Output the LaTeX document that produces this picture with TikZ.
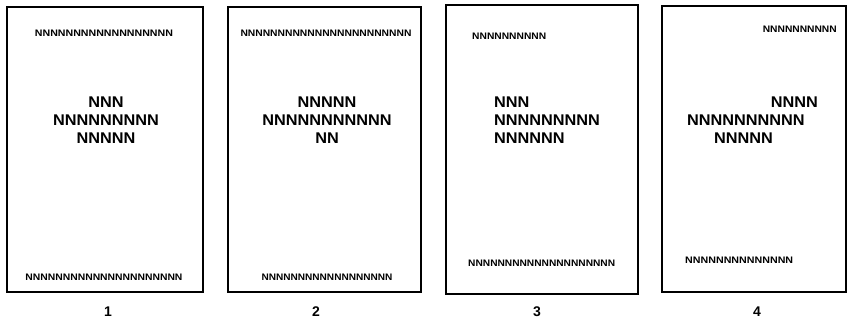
\documentclass[tikz,border=0pt]{standalone}
\usepackage{fontspec}
\setmainfont{Liberation Sans}
\usepackage{graphicx}
\newcommand\tinytxt[2]{\resizebox{#1pt}{6.5pt}{\bfseries #2}}
\begin{document}
\begin{tikzpicture}[x=1pt,y=-1pt,
  page/.style={draw=black,line width=1.4pt},
  big/.style={font=\fontsize{15.5}{15.5}\selectfont\bfseries,inner sep=0pt,xscale=1.05},
  tiny/.style={inner sep=0pt},
  lab/.style={font=\fontsize{14}{14}\selectfont\bfseries,inner sep=0pt}]
\useasboundingbox (0,0) rectangle (850,322);
% pages
\draw[page] (7,7) rectangle (203,292);
\draw[page] (228,7) rectangle (421,292);
\draw[page] (446,5) rectangle (638,294);
\draw[page] (662,6) rectangle (846,292);
% page 1
\node[tiny,anchor=base] (p1t) at (104,36) {\tinytxt{138}{NNNNNNNNNNNNNNNNNN}};
\node[big,anchor=base] (p1a) at (106,107) {NNN};
\node[big,anchor=base] (p1b) at (106,125) {NNNNNNNNN};
\node[big,anchor=base] (p1c) at (106,143) {NNNNN};
\node[tiny,anchor=base] (p1u) at (104,280) {\tinytxt{157}{NNNNNNNNNNNNNNNNNNNNN}};
% page 2
\node[tiny,anchor=base] (p2t) at (326,36) {\tinytxt{171}{NNNNNNNNNNNNNNNNNNNNNNN}};
\node[big,anchor=base] (p2a) at (327,107) {NNNNN};
\node[big,anchor=base] (p2b) at (327,125) {NNNNNNNNNNN};
\node[big,anchor=base] (p2c) at (327,143) {NN};
\node[tiny,anchor=base] (p2u) at (327,280) {\tinytxt{131}{NNNNNNNNNNNNNNNNNN}};
% page 3
\node[tiny,anchor=base west] (p3t) at (472,39) {\tinytxt{74}{NNNNNNNNNN}};
\node[big,anchor=base west] (p3a) at (494,107) {NNN};
\node[big,anchor=base west] (p3b) at (494,125) {NNNNNNNNN};
\node[big,anchor=base west] (p3c) at (494,143) {NNNNNN};
\node[tiny,anchor=base west] (p3u) at (468,266) {\tinytxt{147}{NNNNNNNNNNNNNNNNNNNN}};
% page 4
\node[tiny,anchor=base east] (p4t) at (837,32) {\tinytxt{74}{NNNNNNNNNN}};
\node[big,anchor=base east] (p4a) at (818,107) {NNNN};
\node[big,anchor=base west] (p4b) at (687,125) {NNNNNNNNNN};
\node[big,anchor=base west] (p4c) at (714,143) {NNNNN};
\node[tiny,anchor=base west] (p4u) at (685,263) {\tinytxt{108}{NNNNNNNNNNNNNN}};
% labels
\node[lab] (l1) at (108,312) {1};
\node[lab] (l2) at (316,312) {2};
\node[lab] (l3) at (537,312) {3};
\node[lab] (l4) at (757,312) {4};
\end{tikzpicture}
\end{document}
